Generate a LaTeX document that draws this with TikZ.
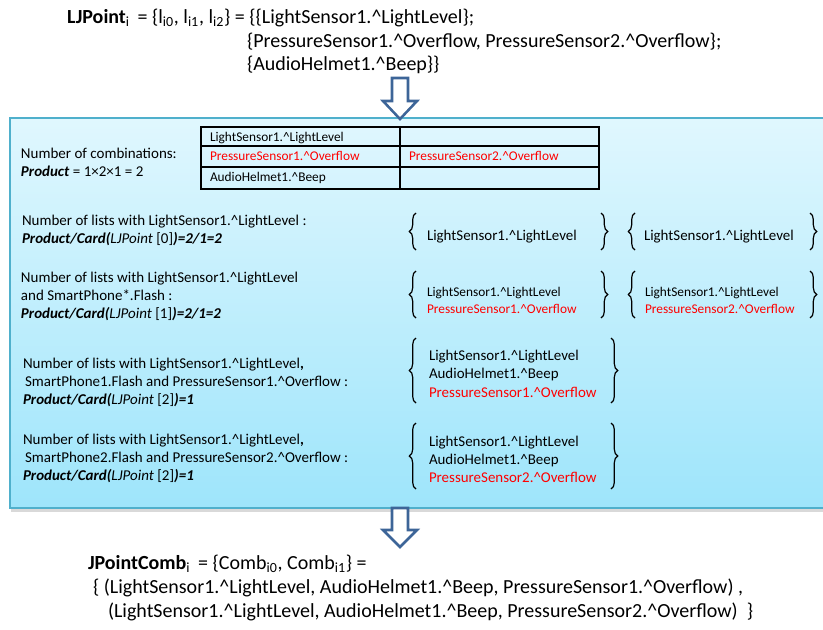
\documentclass[tikz,border=0pt]{standalone}
\usepackage{fontspec}
\setmainfont{Carlito}
\usetikzlibrary{decorations.pathreplacing,shadows}
\definecolor{arrowblue}{HTML}{3D6598}
\definecolor{boxedge}{HTML}{4FB0CC}
\definecolor{boxtop}{HTML}{E0F7FE}
\definecolor{boxbot}{HTML}{9EE5FB}
\definecolor{alertred}{HTML}{FF0000}
\newcommand\ca{\textasciicircum}
\newcommand\sbs[1]{\textsubscript{#1}}
\newcommand\bi[1]{\textbf{\textit{#1}}}
\begin{document}
\begin{tikzpicture}[x=0.75pt,y=-0.75pt,
  txt/.style={anchor=base west, inner sep=0pt, outer sep=0pt},
  head/.style={txt, font=\fontsize{15}{18}\selectfont},
  lbl/.style={txt, font=\fontsize{11.25}{13.5}\selectfont},
  big/.style={txt, font=\fontsize{11.2}{13.5}\selectfont},
  sml/.style={txt, font=\fontsize{10}{12}\selectfont},
  alert/.style={text=alertred},
  brc/.style={decorate, decoration={brace, amplitude=5pt}, line width=0.9pt},
  blockarrow/.style={draw=arrowblue, fill=white, line width=1.9pt, line join=miter},
  tbl/.style={line width=1.3pt}
]
\useasboundingbox (0,0) rectangle (823,629);

% header
\node[head] (h1) at (67,23) {\textbf{LJPoint}\sbs{i}\, = \{l\sbs{i0}, l\sbs{i1}, l\sbs{i2}\} = \{\{LightSensor1.\ca LightLevel\};};
\node[head] (h2) at (247,47) {\{PressureSensor1.\ca Overflow, PressureSensor2.\ca Overflow\};};
\node[head] (h3) at (247,70) {\{AudioHelmet1.\ca Beep\}\}};

% big box
\path[draw=boxedge, line width=1.2pt, top color=boxtop, bottom color=boxbot,
  drop shadow={opacity=0.3, shadow xshift=0.8pt, shadow yshift=-3pt}]
  (10,118) rectangle (830,508);

% arrows
\draw[blockarrow] (392,78) -- (408,78) -- (408,101) -- (417,101) -- (400,119)
  -- (383,101) -- (392,101) -- cycle;
\draw[blockarrow] (392,508) -- (408,508) -- (408,530) -- (417,530) -- (400,547)
  -- (383,530) -- (392,530) -- cycle;

% table
\draw[tbl] (201,127) rectangle (599,189);
\draw[tbl] (400,127) -- (400,189);
\draw[tbl] (201,146) -- (599,146);
\draw[tbl] (201,167) -- (599,167);
\node[sml] (t11) at (210,141) {LightSensor1.\ca LightLevel};
\node[sml,alert] (t21) at (210,160) {PressureSensor1.\ca Overflow};
\node[sml,alert] (t22) at (409,160) {PressureSensor2.\ca Overflow};
\node[sml] (t31) at (210,181.5) {AudioHelmet1.\ca Beep};

% left texts
\node[lbl] (a1) at (21,158) {Number of combinations:};
\node[lbl] (a2) at (21,176) {\bi{Product} = 1×2×1 = 2};

\node[lbl] (b1) at (22,225) {Number of lists with LightSensor1.\ca LightLevel :};
\node[lbl] (b2) at (22,243) {\bi{Product/Card(}\textit{LJPoint} [0]\bi{)=2/1=2}};

\node[lbl] (c1) at (21,282) {Number of lists with LightSensor1.\ca LightLevel};
\node[lbl] (c2) at (21,300) {and SmartPhone*.Flash :};
\node[lbl] (c3) at (21,318) {\bi{Product/Card(}\textit{LJPoint} [1]\bi{)=2/1=2}};

\node[lbl] (d1) at (23,368) {Number of lists with LightSensor1.\ca LightLevel\textbf{,}};
\node[lbl] (d2) at (25,386) {SmartPhone1.Flash and PressureSensor1.\ca Overflow :};
\node[lbl] (d3) at (23,404) {\bi{Product/Card(}\textit{LJPoint} [2]\bi{)=1}};

\node[lbl] (e1) at (23,444) {Number of lists with LightSensor1.\ca LightLevel\textbf{,}};
\node[lbl] (e2) at (25,462) {SmartPhone2.Flash and PressureSensor2.\ca Overflow :};
\node[lbl] (e3) at (23,480) {\bi{Product/Card(}\textit{LJPoint} [2]\bi{)=1}};

% brace row A
\draw[brc] (416,250) -- (416,213);
\node[big] (ra1) at (427,240) {LightSensor1.\ca LightLevel};
\draw[brc] (601,213) -- (601,250);
\draw[brc] (635,250) -- (635,213);
\node[big] (ra2) at (644,240) {LightSensor1.\ca LightLevel};
\draw[brc] (810,213) -- (810,250);

% brace row B
\draw[brc] (416,318) -- (416,271);
\node[sml] (rb1) at (427,296) {LightSensor1.\ca LightLevel};
\node[sml,alert] (rb2) at (427,313.5) {PressureSensor1.\ca Overflow};
\draw[brc] (601,271) -- (601,318);
\draw[brc] (635,318) -- (635,271);
\node[sml] (rb3) at (645,296) {LightSensor1.\ca LightLevel};
\node[sml,alert] (rb4) at (645,313.5) {PressureSensor2.\ca Overflow};
\draw[brc] (810,271) -- (810,318);

% brace row C
\draw[brc] (416,403) -- (416,338);
\node[big] (rc1) at (429,360) {LightSensor1.\ca LightLevel};
\node[big] (rc2) at (429,378) {AudioHelmet1.\ca Beep};
\node[big,alert] (rc3) at (429,397) {PressureSensor1.\ca Overflow};
\draw[brc] (611,338) -- (611,403);

% brace row D
\draw[brc] (416,489) -- (416,423);
\node[big] (rd1) at (429,446) {LightSensor1.\ca LightLevel};
\node[big] (rd2) at (429,464.5) {AudioHelmet1.\ca Beep};
\node[big,alert] (rd3) at (429,482) {PressureSensor2.\ca Overflow};
\draw[brc] (611,423) -- (611,489);

% bottom text
\node[head] (f1) at (88,569) {\textbf{JPointComb}\sbs{i}\, = \{Comb\sbs{i0}, Comb\sbs{i1}\} =};
\node[head] (f2) at (93,593) {\{ (LightSensor1.\ca LightLevel, AudioHelmet1.\ca Beep, PressureSensor1.\ca Overflow) ,};
\node[head] (f3) at (108,617) {(LightSensor1.\ca LightLevel, AudioHelmet1.\ca Beep, PressureSensor2.\ca Overflow)~~\}};
\end{tikzpicture}
\end{document}
